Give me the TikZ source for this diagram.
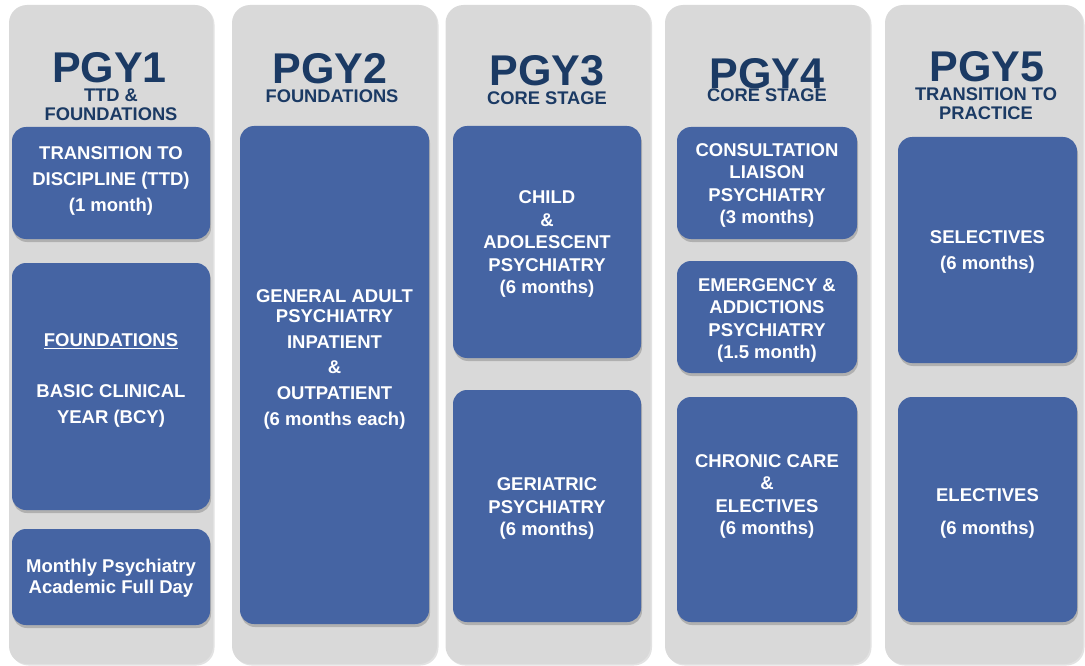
\documentclass[tikz,border=0pt]{standalone}
\usepackage{fontspec}
\setmainfont{Liberation Sans}
\usetikzlibrary{shadows}
\definecolor{lanegrey}{HTML}{D9D9D9}
\definecolor{slateblue}{HTML}{4564A3}
\definecolor{navyink}{HTML}{1B3A64}
\tikzset{lane/.style={rectangle,rounded corners=18pt,fill=lanegrey,draw=none,inner sep=0pt,
  drop shadow={shadow xshift=1.5pt,shadow yshift=-1.5pt,opacity=0.25,fill=black!45}},
  block/.style={rectangle,rounded corners=14pt,fill=slateblue,draw=none,inner sep=0pt,
  drop shadow={shadow xshift=1pt,shadow yshift=-3pt,opacity=0.35,fill=black!60}},
  yeartitle/.style={anchor=base,inner sep=0pt,text=navyink,font=\fontsize{43}{43}\selectfont\bfseries},
  yearsub/.style={anchor=base,inner sep=0pt,text=navyink,align=center,font=\fontsize{18.3}{19}\selectfont\bfseries},
  blocktext/.style={inner sep=0pt,text=white,align=center,font=\fontsize{18.5}{22.5}\selectfont\bfseries}}

\begin{document}
\begin{tikzpicture}[x=1pt,y=-1pt]
 \useasboundingbox (0,0) rectangle (1085,666);
 % year columns
 \node[lane,minimum width=204,minimum height=659] (c1) at (111,334.5) {};
 \node[lane,minimum width=205,minimum height=659] (c2) at (334.5,334.5) {};
 \node[lane,minimum width=205,minimum height=659] (c3) at (548,334.5) {};
 \node[lane,minimum width=205,minimum height=659] (c4) at (767.5,334.5) {};
 \node[lane,minimum width=198,minimum height=659] (c5) at (984,334.5) {};
 % headings
 \node[yeartitle] (y1) at (109.5,83) {PGY1};
 \node[yeartitle] (y2) at (330,84) {PGY2};
 \node[yeartitle] (y3) at (547,86) {PGY3};
 \node[yeartitle] (y4) at (767,89) {PGY4};
 \node[yeartitle] (y5) at (987,82) {PGY5};
 \node[yearsub] (s1) at (111,121) {TTD \&\\FOUNDATIONS};
 \node[yearsub] (s2) at (332,103) {FOUNDATIONS};
 \node[yearsub] (s3) at (547,105) {CORE STAGE};
 \node[yearsub] (s4) at (767,102) {CORE STAGE};
 \node[yearsub] (s5) at (986,120) {TRANSITION TO\\PRACTICE};
 % rotation blocks
 \node[block,minimum width=198,minimum height=112] (b1a) at (111,183) {};
 \node[block,minimum width=198,minimum height=247] (b1b) at (111,386.5) {};
 \node[block,minimum width=198,minimum height=96] (b1c) at (111,577) {};
 \node[block,minimum width=189,minimum height=498] (b2) at (334.5,375) {};
 \node[block,minimum width=188,minimum height=232] (b3a) at (547,242) {};
 \node[block,minimum width=188,minimum height=232] (b3b) at (547,506) {};
 \node[block,minimum width=180,minimum height=112] (b4a) at (767,183) {};
 \node[block,minimum width=180,minimum height=112] (b4b) at (767,317) {};
 \node[block,minimum width=180,minimum height=225] (b4c) at (767,509.5) {};
 \node[block,minimum width=179,minimum height=226] (b5a) at (987.5,250) {};
 \node[block,minimum width=179,minimum height=225] (b5b) at (987.5,509.5) {};
 % block texts
 \node[blocktext] (t1a) at (111,181) {TRANSITION TO\\[3.5pt]DISCIPLINE (TTD)\\[3.5pt](1 month)};
 \node[blocktext] (t1b) at (111,380.5) {\underline{FOUNDATIONS}\\[28pt]BASIC CLINICAL\\[3.5pt]YEAR (BCY)};
 \node[blocktext,font=\fontsize{18.5}{21}\selectfont\bfseries] (t1c) at (111,578.5) {Monthly Psychiatry\\Academic Full Day};
 \node[blocktext] (t2) at (334.5,359.5) {GENERAL ADULT\\[-2.5pt]PSYCHIATRY\\[3.5pt]INPATIENT\\[2.5pt]\&\\[3.5pt]OUTPATIENT\\[3.5pt](6 months each)};
 \node[blocktext] (t3a) at (547,244) {CHILD\\\&\\ADOLESCENT\\PSYCHIATRY\\(6 months)};
 \node[blocktext] (t3b) at (547,508.5) {GERIATRIC\\PSYCHIATRY\\(6 months)};
 \node[blocktext] (t4a) at (767,185.5) {CONSULTATION\\LIAISON\\PSYCHIATRY\\(3 months)};
 \node[blocktext] (t4b) at (767,320.5) {EMERGENCY \&\\ADDICTIONS\\PSYCHIATRY\\(1.5 month)};
 \node[blocktext] (t4c) at (767,496.5) {CHRONIC CARE\\\&\\ELECTIVES\\(6 months)};
 \node[blocktext] (t5a) at (987.5,252) {SELECTIVES\\[3.5pt](6 months)};
 \node[blocktext] (t5b) at (987.5,513.5) {ELECTIVES\\[10.5pt](6 months)};
\end{tikzpicture}
\end{document}
